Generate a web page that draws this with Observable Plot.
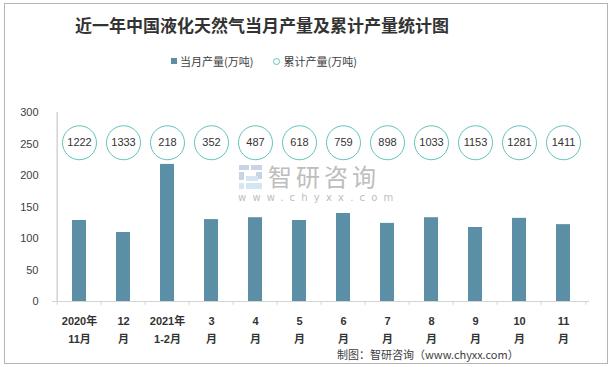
<!DOCTYPE html>
<html><head><meta charset="utf-8">
<script src="https://cdn.jsdelivr.net/npm/d3@7"></script>
<script src="https://cdn.jsdelivr.net/npm/@observablehq/plot@0.6"></script>
<style>
body{margin:0;background:#fff;}
#wrap{position:relative;width:614px;height:367px;overflow:hidden;font-family:"Noto Sans CJK SC","Liberation Sans",sans-serif;}
#border{position:absolute;left:4px;top:3px;width:604px;height:361px;border:1px solid #b4b4b4;box-sizing:border-box;}
#title{position:absolute;left:262px;top:11px;transform:translateX(-50%);white-space:nowrap;font-size:17px;font-weight:bold;color:#333;line-height:28px;}
#legend{position:absolute;left:171px;top:52px;font-size:11px;color:#404040;line-height:18px;white-space:nowrap;display:flex;align-items:center;}
.sw{display:inline-block;width:6px;height:6px;background:#5b8fa6;margin-right:3px;}
.cw{display:inline-block;width:5px;height:5px;border:1px solid #62c3b9;border-radius:50%;margin-right:3px;margin-left:20px;}
#chart{position:absolute;left:0;top:80px;}
#footer{position:absolute;left:337px;top:347px;font-size:11px;color:#404040;white-space:nowrap;line-height:14px;}
#wm{position:absolute;left:238px;top:162px;color:#bdbdbd;white-space:nowrap;}
#wm .t{position:absolute;left:30px;top:0;font-size:24px;letter-spacing:4px;line-height:28px;}
#wm .u{position:absolute;left:0;top:30px;font-size:10px;letter-spacing:6.2px;font-family:"DejaVu Sans",sans-serif;line-height:12px;}
</style></head>
<body>
<div id="wrap">
  <div id="border"></div>
  <div id="title">近一年中国液化天然气当月产量及累计产量统计图</div>
  <div id="legend"><span class="sw"></span>当月产量(万吨)<span class="cw"></span>累计产量(万吨)</div>
  <div id="chart"></div>
  <div id="wm">
    <svg width="26" height="26" style="position:absolute;left:0;top:2px">
      <rect x="1" y="1" width="10" height="5" fill="#c8d3e6"/>
      <rect x="13" y="1" width="11" height="5" fill="#c8d3e6"/>
      <rect x="1" y="8" width="5" height="8" fill="#c8d3e6"/>
      <rect x="18" y="8" width="6" height="7" fill="#c8d3e6"/>
      <rect x="8" y="12" width="12" height="5" fill="#d4e6f2"/>
      <rect x="1" y="19" width="5" height="6" fill="#d4e6f2"/>
      <rect x="8" y="19" width="16" height="6" fill="#d4e6f2"/>
    </svg>
    <div class="t">智研咨询</div>
    <div class="u">www.chyxx.com</div>
  </div>
  <div id="footer">制图：智研咨询（www.chyxx.com）</div>
</div>
<script>
const categories = ["2020年\n11月","12\n月","2021年\n1-2月","3\n月","4\n月","5\n月","6\n月","7\n月","8\n月","9\n月","10\n月","11\n月"];
const monthly = [128.6,109.5,217.6,130,133,128.6,139.7,124,133,117.5,132,122];
const cumulative = [1222,1333,218,352,487,618,759,898,1033,1153,1281,1411];
const yTicks = [0,50,100,150,200,250,300];
const LABEL_Y = 252;

const W = 614, H = 262, ML = 52, MR = 25, MT = 32, MB = 41;
const step = (W - ML - MR) / categories.length;
const data = categories.map((c, i) => ({cat: c, monthly: monthly[i], cum: cumulative[i]}));

const chart = Plot.plot({
  width: W, height: H, marginTop: MT, marginBottom: MB, marginLeft: ML, marginRight: MR,
  x: {domain: categories, paddingInner: 0.69, paddingOuter: 0.345, label: null},
  y: {domain: [0, 300], label: null},
  style: {fontFamily: '"Liberation Sans","Noto Sans CJK SC",sans-serif', background: "transparent", overflow: "visible"},
  marks: [
    Plot.barY(data, {x: "cat", y: "monthly", fill: "#5b8fa6"}),
    Plot.ruleY([0], {stroke: "#d4d4d4"}),
    Plot.ruleX(categories, {x: d => d, y1: 0, y2: -6, dx: -step / 2, stroke: "#d4d4d4"}),
    Plot.ruleX([categories[categories.length - 1]], {x: d => d, y1: 0, y2: -6, dx: step / 2, stroke: "#d4d4d4"}),
    Plot.ruleX([categories[0]], {x: d => d, y1: 0, y2: 300, dx: -step / 2, stroke: "#bcbcbc"}),
    Plot.axisY(yTicks, {tickSize: 0, tickPadding: 14, fontSize: 11, color: "#404040", label: null}),
    Plot.axisX({tickSize: 0, tickPadding: 10, fontSize: 11, fontWeight: "bold", lineHeight: 1.7, color: "#333", label: null}),
    Plot.dot(data, {x: "cat", y: () => LABEL_Y, r: 17, stroke: "#62c3b9", strokeWidth: 1, fill: "white"}),
    Plot.text(data, {x: "cat", y: () => LABEL_Y, text: d => String(d.cum), fontSize: 11, fill: "#333"})
  ]
});
document.getElementById("chart").appendChild(chart);
</script>
</body></html>
